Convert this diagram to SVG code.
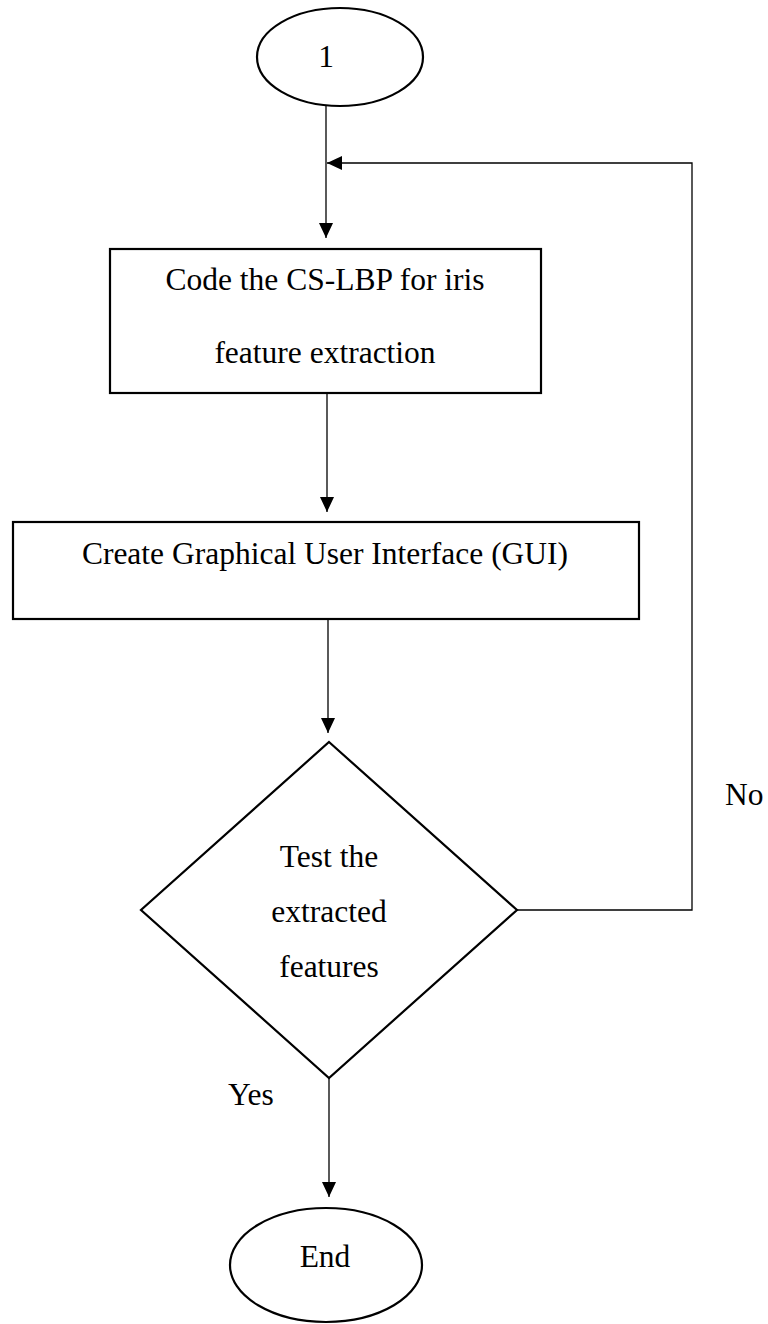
<svg xmlns="http://www.w3.org/2000/svg" width="768" height="1324" viewBox="0 0 768 1324">
  <style>
    .shape { fill: #fff; stroke: #000; stroke-width: 2.2; }
    .conn { fill: none; stroke: #000; stroke-width: 1.3; }
    .lbl { font-family: "Liberation Serif", "Times New Roman", serif; font-size: 31.5px; fill: #000; }
    .c { text-anchor: middle; }
  </style>
  <defs>
    <marker id="arr" viewBox="0 0 15 14" refX="15" refY="7" markerWidth="15" markerHeight="14" markerUnits="userSpaceOnUse" orient="auto">
      <path d="M0,0 L15,7 L0,14 Z" fill="#000"/>
    </marker>
  </defs>
  <rect width="768" height="1324" fill="#fff"/>

  <g id="connectors">
    <path class="conn" d="M326,106 V238" marker-end="url(#arr)"/>
    <path class="conn" d="M327,393 V512" marker-end="url(#arr)"/>
    <path class="conn" d="M328,619 V733" marker-end="url(#arr)"/>
    <path class="conn" d="M517,910 H692 V163 H327" marker-end="url(#arr)"/>
    <path class="conn" d="M329,1078 V1197" marker-end="url(#arr)"/>
  </g>

  <g id="start">
    <ellipse class="shape" cx="340" cy="57" rx="83" ry="49"/>
    <text class="lbl c" x="326" y="67">1</text>
  </g>

  <g id="code-cslbp">
    <rect class="shape" x="110" y="249" width="431" height="144"/>
    <text class="lbl c" x="325" y="290">Code the CS-LBP for iris</text>
    <text class="lbl c" x="325" y="363">feature extraction</text>
  </g>

  <g id="create-gui">
    <rect class="shape" x="13" y="522" width="626" height="97"/>
    <text class="lbl c" x="325" y="564">Create Graphical User Interface (GUI)</text>
  </g>

  <g id="test">
    <polygon class="shape" points="329,742 517,910 329,1078 141,910"/>
    <text class="lbl c" x="329" y="867">Test the</text>
    <text class="lbl c" x="329" y="922">extracted</text>
    <text class="lbl c" x="329" y="977">features</text>
  </g>

  <g id="end">
    <ellipse class="shape" cx="326" cy="1265" rx="96" ry="57"/>
    <text class="lbl c" x="325" y="1267">End</text>
  </g>

  <g id="labels">
    <text class="lbl" x="725" y="805">No</text>
    <text class="lbl" x="228" y="1105">Yes</text>
  </g>
</svg>
